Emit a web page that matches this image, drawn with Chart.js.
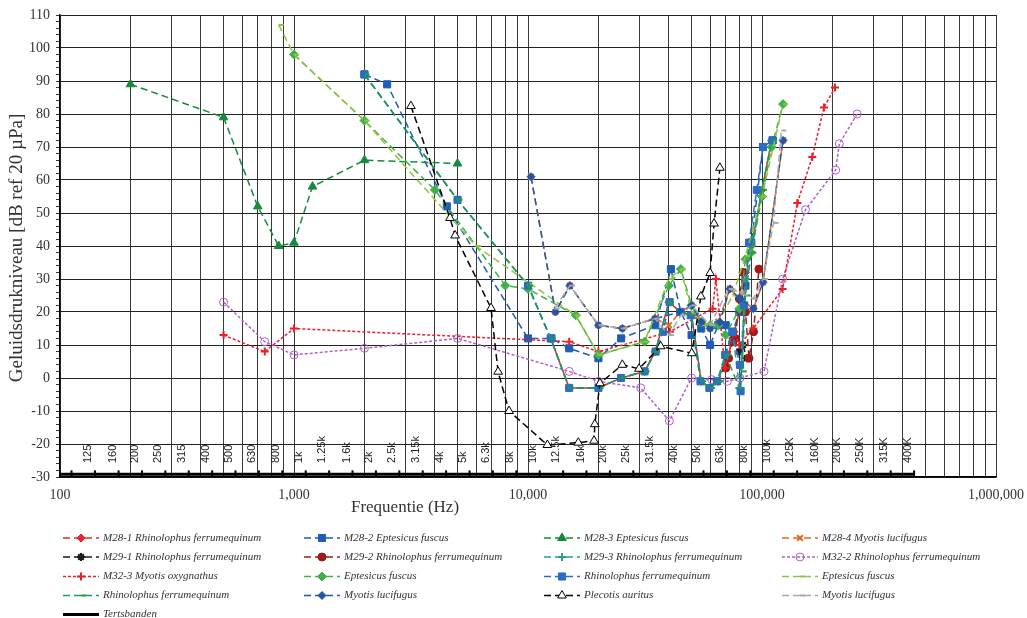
<!DOCTYPE html>
<html>
<head>
<meta charset="utf-8">
<script src="https://cdn.jsdelivr.net/npm/chart.js@4.4.1/dist/chart.umd.min.js"></script>
<style>
  html, body { margin: 0; padding: 0; background: #fff; }
  #wrap { width: 1027px; height: 618px; }
</style>
</head>
<body>
<div id="wrap"><canvas id="chart" width="1027" height="618"></canvas></div>
<script>
// meetpunten per reeks: frequentie (Hz) en niveau (dB ref 20 µPa)
const m281F = [12500, 15000, 20000, 25000, 31500, 35000, 40000, 45000, 50000, 55000, 60000, 65000, 70000, 75000, 80000, 85000, 90000, 100000, 110000];
const m281Db = [12, -3, -3, 0, 2, 8, 23, 20, 19, -1, -3, -1, 4, 12, 20, 32, 40, 57, 72];

const m282F = [2000, 2500, 4500, 10000, 12600, 15000, 20000, 25000, 35000, 40800, 45000, 50000, 55000, 60000, 65000, 70000, 75000, 80000, 85000, 90000, 101000, 111000];
const m282Db = [92, 89, 52, 12, 12, 9, 6, 12, 16, 33, 20, 13, 15, 10, 16, 16, 14, 20, 28, 41, 70, 72];

const m283F = [200, 500, 700, 860, 1000, 1200, 2000, 5000];
const m283Db = [89, 79, 52, 40, 41, 58, 66, 65];

const m284F = [10300, 13100, 15100, 20000, 25300, 34900, 40000, 44700, 50000, 55000, 60000, 65000, 72900, 80500, 91800, 101000, 123000];
const m284Db = [61, 20, 28, 16, 15, 18, 16, 20, 22, 17, 15, 17, 27, 24, 21, 29, 72];

const m291F = [76000, 80000, 83000, 86000];
const m291Db = [12, 8, 10, 6];

const m292F = [70000, 72000, 75000, 77000, 80000, 83000, 85000, 88000, 92000, 97000];
const m292Db = [3, 6, 11, 12, 24, 32, 20, 6, 14, 33];

const m293F = [2000, 5000, 10000, 12500, 15000, 20000, 25000, 31500, 35000, 40000, 45000, 50000, 55000, 60000, 65000, 70000, 75000, 80000, 82000, 85000, 90000, 100000, 110000];
const m293Db = [92, 54, 28, 12, -3, -3, 0, 2, 8, 23, 20, 19, -1, -3, -1, 7, 14, -3, 10, 30, 40, 57, 72];

const m322F = [500, 750, 1000, 2000, 5000, 15000, 20000, 30300, 40200, 50000, 60900, 71100, 80500, 102000, 122500, 153500, 206500, 214000, 255000];
const m322Db = [23, 11, 7, 9, 12, 2, -1, -3, -13, 0, -0.5, -1, 0, 2, 30, 51, 63, 71, 80];

const m323F = [500, 750, 1000, 15000, 20000, 40400, 61500, 63500, 69500, 76000, 80000, 91800, 122500, 141600, 164000, 184000, 205000];
const m323Db = [13, 8, 15, 11, 8, 14, 21, 30, 3, 14, 10, 15, 27, 53, 67, 82, 88];

const eptDiamF = [1000, 2000, 4000, 8000, 10000, 16000, 20000, 31500, 40000, 45000, 50000, 55000, 60000, 65000, 70000, 80000, 85000, 90000, 100000, 110000, 123000];
const eptDiamDb = [98, 78, 57, 28, 27, 19, 7, 11, 28, 33, 22, 17, 16, 16, 13, 21, 36, 38, 55, 70, 83];

const rhiSqF = [2000, 5000, 10000, 12500, 15000, 20000, 25000, 31500, 35100, 37700, 40300, 44700, 49600, 54600, 59600, 64300, 69600, 74700, 80500, 81000, 84000, 88000, 95000, 101000, 111000];
const rhiSqDb = [92, 54, 28, 12, -3, -3, 0, 2, 8, 14, 23, 20, 19, -1, -3, -1, 7, 14, 4, -4, 22, 41, 57, 70, 72];

const eptDashF = [860, 1000, 2000, 6000, 16000, 20000, 31500, 40000, 45000, 50000, 55000, 65000, 75000, 85000, 100000, 123000];
const eptDashDb = [107, 98, 78, 40, 19, 7, 11, 30, 33, 20, 16, 17, 25, 37, 55, 83];

const rhiDashF = [2000, 5000, 10000, 12500, 15000, 20000, 25000, 31500, 35000, 40000, 45000, 50000, 55000, 60000, 65000, 70000, 80000, 82000, 85000, 90000, 100000, 110000];
const rhiDashDb = [92, 54, 28, 12, -3, -3, 0, 2, 8, 23, 20, 19, -1, -3, -1, 7, -3, 2, 25, 38, 57, 72];

const myoDiamF = [10300, 13100, 15100, 20000, 25300, 34900, 44700, 50000, 55000, 60000, 66000, 72900, 80500, 91800, 101000, 123000];
const myoDiamDb = [61, 20, 28, 16, 15, 18, 20, 22, 17, 15, 17, 27, 24, 21, 29, 72];

const plecF = [3160, 4640, 4880, 6950, 7450, 8300, 12100, 16400, 19150, 19300, 20300, 25300, 29800, 36900, 50100, 54800, 60000, 62400, 66100];
const plecDb = [82.4, 48.5, 43.2, 21.2, 1.9, -10, -20.3, -19.6, -19, -14, -1.6, 4, 2.8, 9.6, 7.5, 24.7, 31.8, 46.8, 63.7];

const myoDashF = [13000, 15100, 20000, 25300, 34900, 40000, 45000, 50000, 60000, 72000, 80000, 91800, 101000, 112000, 121000];
const myoDashDb = [21, 28, 16, 15, 18, 13, 19, 22, 16, 27, 26, 24, 30, 47, 75];

// tertsbanden: bandgrenzen (onderste lijn) en middenfrequenties met labels
const bandEdges = [89, 112, 141, 178, 224, 282, 355, 447, 562, 708, 891, 1122, 1413, 1778, 2239, 2818, 3548, 4467, 5623, 7079, 8913, 11220, 14130, 17780, 22390, 28180, 35480, 44670, 56230, 70790, 89130, 112200, 141300, 177800, 223900, 281800, 354800, 446700];
const bandLevel = -29.2;
const bandCenters = [125, 160, 200, 250, 315, 400, 500, 630, 800, 1000, 1250, 1600, 2000, 2500, 3150, 4000, 5000, 6300, 8000, 10000, 12500, 16000, 20000, 25000, 31500, 40000, 50000, 63000, 80000, 100000, 125000, 160000, 200000, 250000, 315000, 400000];
const bandLabels = ['125', '160', '200', '250', '315', '400', '500', '630', '800', '1k', '1.25k', '1.6k', '2k', '2.5k', '3.15k', '4k', '5k', '6.3k', '8k', '10k', '12.5k', '16k', '20k', '25k', '31.5k', '40k', '50k', '63k', '80k', '100k', '125K', '160K', '200K', '250K', '315K', '400K'];

// assen
const decadeTicks = [100, 1000, 10000, 100000, 1000000];
const gridFreqs = [100, 200, 300, 400, 500, 600, 700, 800, 900,
  1000, 2000, 3000, 4000, 5000, 6000, 7000, 8000, 9000,
  10000, 20000, 30000, 40000, 50000, 60000, 70000, 80000, 90000,
  100000, 200000, 300000, 400000, 500000, 600000, 700000, 800000, 900000, 1000000];

function pts(f, db) {
  return f.map((x, i) => ({ x: x, y: db[i] }));
}

const DASH = [7, 4];
const DOT = [3, 2];

const series = [
  { label: 'M28-1 Rhinolophus ferrumequinum', f: m281F, db: m281Db, color: '#e8262a', style: 'rectRot', r: 4, dash: DASH },
  { label: 'M28-2 Eptesicus fuscus', f: m282F, db: m282Db, color: '#1f5db5', style: 'rect', r: 5, dash: DASH },
  { label: 'M28-3 Eptesicus fuscus', f: m283F, db: m283Db, color: '#178a3a', style: 'triangle', r: 5, dash: DASH },
  { label: 'M28-4 Myotis lucifugus', f: m284F, db: m284Db, color: '#e06a22', style: 'crossRot', r: 4, dash: DASH },
  { label: 'M29-1 Rhinolophus ferrumequinum', f: m291F, db: m291Db, color: '#1a1a1a', style: 'star', r: 4, dash: DASH },
  { label: 'M29-2 Rhinolophus ferrumequinum', f: m292F, db: m292Db, color: '#a0181c', style: 'circle', r: 4, dash: DASH },
  { label: 'M29-3 Rhinolophus ferrumequinum', f: m293F, db: m293Db, color: '#2aa08a', style: 'cross', r: 4, dash: DASH },
  { label: 'M32-2 Rhinolophus ferrumequinum', f: m322F, db: m322Db, color: '#b060c8', style: 'circle', r: 4, dash: DOT, open: true },
  { label: 'M32-3 Myotis oxygnathus', f: m323F, db: m323Db, color: '#e8202a', style: 'cross', r: 4, dash: DOT },
  { label: 'Eptesicus fuscus', f: eptDiamF, db: eptDiamDb, color: '#42b04a', style: 'rectRot', r: 4.5, dash: DASH },
  { label: 'Rhinolophus ferrumequinum', f: rhiSqF, db: rhiSqDb, color: '#2c6cc4', style: 'rect', r: 5, dash: DASH },
  { label: 'Eptesicus fuscus', f: eptDashF, db: eptDashDb, color: '#8cc63e', style: 'dash', r: 5, dash: DASH },
  { label: 'Rhinolophus ferrumequinum', f: rhiDashF, db: rhiDashDb, color: '#1e9e48', style: 'dash', r: 5, dash: DASH },
  { label: 'Myotis lucifugus', f: myoDiamF, db: myoDiamDb, color: '#2456a8', style: 'rectRot', r: 4, dash: DASH },
  { label: 'Plecotis auritus', f: plecF, db: plecDb, color: '#000000', style: 'triangle', r: 5, dash: DASH, open: true },
  { label: 'Myotis lucifugus', f: myoDashF, db: myoDashDb, color: '#a8a8a8', style: 'dash', r: 5, dash: DASH }
];

const datasets = series.map((s, i) => ({
  label: s.label,
  data: pts(s.f, s.db),
  borderColor: s.color,
  backgroundColor: s.open ? '#ffffff' : s.color,
  borderWidth: 1.5,
  borderDash: s.dash,
  pointStyle: s.style,
  pointRadius: s.r,
  pointBorderColor: s.color,
  pointBackgroundColor: s.open ? (s.style === 'circle' ? 'rgba(0,0,0,0)' : '#ffffff') : s.color,
  pointBorderWidth: (s.style === 'dash' || s.style === 'cross' || s.style === 'crossRot' || s.style === 'star') ? 2 : 1,
  tension: 0,
  order: 100 - i
}));

datasets.push({
  label: 'Tertsbanden',
  data: bandEdges.map(f => ({ x: f, y: bandLevel })),
  borderColor: '#000000',
  backgroundColor: '#000000',
  borderWidth: 3,
  pointStyle: 'line',
  pointRotation: 90,
  pointRadius: 4,
  pointBorderColor: '#000000',
  pointBorderWidth: 2,
  order: 0
});

// eigen legenda in vier kolommen onder de grafiek
const legendPlugin = {
  id: 'gridLegend',
  afterDraw(chart) {
    const ctx = chart.ctx;
    const colX = [63, 304, 544, 782];
    const rowY = [538, 557, 576.5, 595.5, 614.5];
    chart.data.datasets.forEach((ds, i) => {
      const x = colX[i % 4];
      const y = rowY[Math.floor(i / 4)];
      ctx.save();
      ctx.strokeStyle = ds.borderColor;
      ctx.lineWidth = ds.borderWidth;
      ctx.setLineDash(ds.borderDash || []);
      ctx.beginPath();
      ctx.moveTo(x, y);
      ctx.lineTo(x + 36, y);
      ctx.stroke();
      ctx.setLineDash([]);
      if (ds.label !== 'Tertsbanden') {
        ctx.fillStyle = ds.pointBackgroundColor;
        ctx.strokeStyle = ds.pointBorderColor;
        ctx.lineWidth = ds.pointBorderWidth;
        Chart.helpers.drawPoint(ctx, {
          pointStyle: ds.pointStyle,
          radius: ds.pointRadius,
          borderWidth: ds.pointBorderWidth,
          rotation: 0
        }, x + 18, y);
      }
      ctx.fillStyle = '#333333';
      ctx.font = 'italic 11px "Liberation Serif"';
      ctx.textBaseline = 'middle';
      ctx.textAlign = 'left';
      ctx.fillText(ds.label, x + 40, y);
      ctx.restore();
    });
  }
};

// labels van de tertsbanden, titels van de assen
const textPlugin = {
  id: 'bandText',
  afterDraw(chart) {
    const ctx = chart.ctx;
    const xs = chart.scales.x;
    ctx.save();
    ctx.fillStyle = '#222222';
    ctx.font = '11px "Liberation Sans"';
    ctx.textAlign = 'left';
    ctx.textBaseline = 'middle';
    bandCenters.forEach((f, i) => {
      const px = xs.getPixelForValue(f) + 5;
      ctx.save();
      ctx.translate(px, 463);
      ctx.rotate(-Math.PI / 2);
      ctx.fillText(bandLabels[i], 0, 0);
      ctx.restore();
    });
    ctx.fillStyle = '#333333';
    ctx.font = '17px "Liberation Serif"';
    ctx.textAlign = 'center';
    ctx.fillText('Frequentie (Hz)', 405, 508);
    ctx.save();
    ctx.translate(17, 248);
    ctx.rotate(-Math.PI / 2);
    ctx.font = '19px "Liberation Serif"';
    ctx.fillText('Geluidsdrukniveau [dB ref 20 µPa]', 0, 0);
    ctx.restore();
    ctx.restore();
  }
};

new Chart(document.getElementById('chart'), {
  type: 'line',
  data: { datasets: datasets },
  plugins: [legendPlugin, textPlugin],
  options: {
    responsive: false,
    animation: false,
    devicePixelRatio: 1,
    layout: { padding: { top: 15, right: 31, left: 0, bottom: 0 } },
    plugins: {
      legend: { display: false },
      tooltip: { enabled: false }
    },
    scales: {
      x: {
        type: 'logarithmic',
        min: 100,
        max: 1000000,
        afterBuildTicks: (scale) => {
          scale.ticks = gridFreqs.map(v => ({ value: v }));
        },
        afterFit: (scale) => {
          scale.height = 141;
          scale.paddingLeft = 0;
          scale.paddingRight = 0;
        },
        grid: { color: '#3a3a3a', lineWidth: 1, drawTicks: false },
        border: { color: '#000000', width: 1.5 },
        ticks: {
          autoSkip: false,
          maxRotation: 0,
          padding: 10,
          color: '#333333',
          font: { family: 'Liberation Serif', size: 14 },
          callback: (v) => decadeTicks.includes(v) ? v.toLocaleString('en-US') : ''
        }
      },
      y: {
        type: 'linear',
        min: -30,
        max: 110,
        afterFit: (scale) => { scale.width = 60; },
        grid: {
          color: (c) => (c.tick && c.tick.value % 10 === 0) ? '#222222' : 'rgba(0,0,0,0)',
          tickColor: '#333333',
          tickLength: 4,
          lineWidth: 1
        },
        border: { color: '#000000', width: 1.5 },
        ticks: {
          stepSize: 2,
          autoSkip: false,
          padding: 6,
          color: '#333333',
          font: { family: 'Liberation Serif', size: 14 },
          callback: (v) => v % 10 === 0 ? String(v) : ''
        }
      }
    }
  }
});
</script>
</body>
</html>
